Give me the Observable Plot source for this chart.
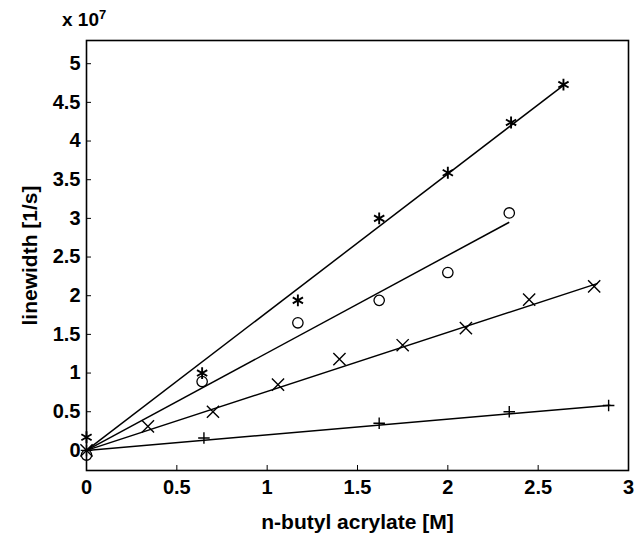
<!DOCTYPE html>
<html><head><meta charset="utf-8">
<script src="https://cdn.jsdelivr.net/npm/d3@7"></script>
<script src="https://cdn.jsdelivr.net/npm/@observablehq/plot@0.6"></script>
<style>
body{margin:0;background:#fff;font-family:"Liberation Sans",Arial,sans-serif;}
#wrap{position:relative;width:635px;height:534px;}
#exp{position:absolute;left:62px;top:7px;font-weight:bold;font-size:19px;color:#000;}
#exp sup{font-size:13px;}
g[aria-label="x-axis label"] text, g[aria-label="y-axis label"] text{font-size:21px;}
</style></head><body><div id="wrap"><div id="exp">x 10<sup>7</sup></div></div>
<script>
// data (linewidth in units of 1e7 1/s)
const xStar = [0, 0.64, 1.17, 1.62, 2.0, 2.35, 2.64];
const yStar = [0.17, 1.0, 1.94, 3.0, 3.59, 4.24, 4.73];
const xCircle = [0, 0.64, 1.17, 1.62, 2.0, 2.34];
const yCircle = [-0.06, 0.89, 1.65, 1.94, 2.30, 3.07];
const xTimes = [0, 0.34, 0.70, 1.06, 1.40, 1.75, 2.10, 2.45, 2.81];
const yTimes = [0, 0.31, 0.50, 0.85, 1.18, 1.36, 1.58, 1.95, 2.12];
const xPlus = [0, 0.65, 1.62, 2.34, 2.89];
const yPlus = [0, 0.16, 0.35, 0.50, 0.58];
// fitted lines (start and end points)
const fitNames = ["star", "circle", "times", "plus"];
const fitX0 = [0, 0, 0, 0];
const fitY0 = [0, 0, 0, 0];
const fitX1 = [2.64, 2.34, 2.83, 2.90];
const fitY1 = [4.72, 2.95, 2.16, 0.585];
const xTicks = [0, 0.5, 1, 1.5, 2, 2.5, 3];
const yTicks = [0, 0.5, 1, 1.5, 2, 2.5, 3, 3.5, 4, 4.5, 5];

const pts = (xs, ys) => xs.map((x, i) => ({x, y: ys[i]}));
const fits = fitNames.map((n, i) => ({n, x1: fitX0[i], y1: fitY0[i], x2: fitX1[i], y2: fitY1[i]}));

const chart = Plot.plot({
  width: 635, height: 534,
  marginLeft: 86, marginRight: 7, marginTop: 40, marginBottom: 64,
  style: {fontFamily: "Liberation Sans, Arial, sans-serif", fontSize: "20px", fontWeight: "bold", background: "#fff", color: "#000"},
  x: {domain: [0, 3], ticks: xTicks, tickFormat: d => String(d), tickSize: -5, tickPadding: 14,
      label: "n-butyl acrylate [M]", labelAnchor: "center", labelOffset: 58, labelArrow: "none"},
  y: {domain: [-0.26, 5.3], ticks: yTicks, tickFormat: d => String(d), tickSize: -5, tickPadding: 11,
      label: "linewidth [1/s]", labelAnchor: "center", labelOffset: 64, labelArrow: "none"},
  marks: [
    Plot.frame({stroke: "black", strokeWidth: 1.6}),
    Plot.link(fits, {x1: "x1", y1: "y1", x2: "x2", y2: "y2", stroke: "black", strokeWidth: 1.5}),
    Plot.dot(pts(xStar, yStar), {x: "x", y: "y", symbol: "asterisk", r: 5.6, stroke: "black", strokeWidth: 1.9}),
    Plot.dot(pts(xCircle, yCircle), {x: "x", y: "y", symbol: "circle", r: 5.2, stroke: "black", fill: "none", strokeWidth: 1.3}),
    Plot.dot(pts(xTimes, yTimes), {x: "x", y: "y", symbol: "times", r: 5.6, stroke: "black", strokeWidth: 1.4}),
    Plot.dot(pts(xPlus, yPlus), {x: "x", y: "y", symbol: "plus", r: 3.8, stroke: "black", strokeWidth: 1.4})
  ]
});
document.getElementById("wrap").prepend(chart);
</script></body></html>
